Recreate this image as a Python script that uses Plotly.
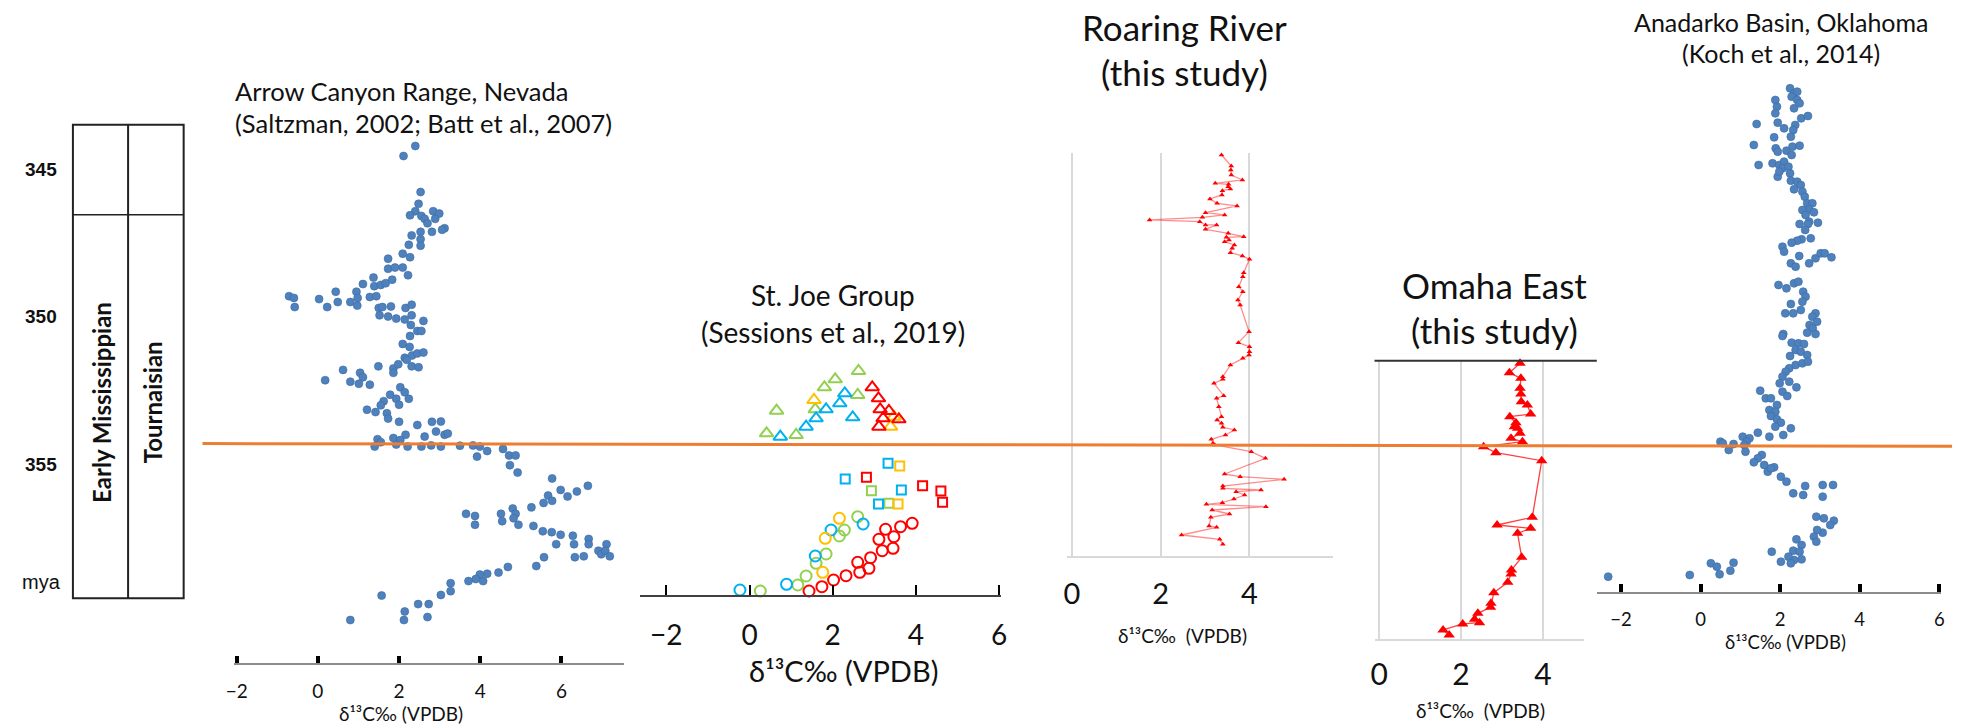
import plotly.graph_objects as go

W, H = 1969, 728


def px(x):
    return x / W


def py(y):
    return 1 - y / H


# ---------------- DATA ----------------
# Stratigraphic column (Ma)
age_ticks = [345, 350, 355]
age_tick_labels = ["345", "350", "355"]
mya_age = 359.0
strat_bounds = [343.5, 346.55, 359.55]      # column top, Tournaisian/Visean, base
strat_labels = ["Early Mississippian", "Tournaisian"]
strat_label_age = 352.9

# Arrow Canyon Range, Nevada (d13C, age Ma)
arrow_d13c = [2.40, 2.11, 2.53, 2.48, 2.40, 2.27, 2.55, 2.63, 2.70, 2.84, 2.99, 2.89, 3.12, 3.06, 2.81, 2.53,
              2.31, 2.53, 2.24, 2.53, 2.09, 2.27, 1.73, 1.73, 1.90, 2.09, 2.22, 1.83, 1.37, 1.11, 1.39, 1.55,
              1.67, 0.95, 0.44, 0.98, 1.28, 1.44, -0.71, -0.59, 0.03, 0.49, 0.80, 0.97, -0.57, 0.23, 1.50, 1.59,
              1.80, 2.16, 2.31, 1.52, 1.73, 1.93, 2.31, 2.14, 2.60, 2.29, 2.45, 2.55, 2.27, 2.09, 2.26, 2.14,
              2.32, 2.45, 2.60, 2.19, 2.31, 2.48, 1.49, 1.86, 1.98, 0.62, 1.04, 1.11, 0.80, 0.18, 1.01, 1.28,
              1.86, 2.03, 2.14, 2.24, 1.78, 1.93, 1.62, 2.00, 1.21, 1.55, 1.42, 1.70, 1.73, 2.00, 2.45, 2.81,
              3.03, 2.91, 3.12, 3.20, 2.16, 2.63, 1.86, 2.03, 1.47, 1.40, 1.55, 1.93, 2.21, 2.55, 2.79, 3.03,
              3.50, 3.82, 3.99, 4.17, 3.92, 4.56, 4.71, 4.87, 4.73, 4.92,
              5.77, 5.98, 6.15, 6.38, 6.65, 5.67, 5.77, 5.56, 5.26, 3.65, 3.87, 3.87, 4.51, 4.54, 4.80, 4.87,
              4.82, 4.94, 5.31, 5.54, 5.76, 5.98, 6.28, 6.31, 6.67, 6.67, 5.87, 6.91, 6.98, 7.11, 7.08, 7.19,
              6.33, 6.55, 5.57, 5.38, 4.68, 4.45, 4.17, 3.99, 4.07, 3.89, 3.71, 3.27, 3.27, 3.03, 2.73, 2.47,
              2.70, 2.14, 2.12, 1.57, 0.80]
arrow_age = [344.22, 344.56, 345.78, 346.18, 346.43, 346.57, 346.59, 346.69, 346.84, 346.43, 346.51, 346.69,
             347.01, 347.06, 347.13, 347.13, 347.25, 347.38, 347.57, 347.60, 347.87, 347.99, 348.04, 348.38,
             348.34, 348.34, 348.60, 348.75, 348.68, 348.90, 348.97, 348.93, 348.87, 349.16, 349.16, 349.37,
             349.34, 349.31, 349.31, 349.37, 349.41, 349.51, 349.51, 349.63, 349.68, 349.68, 349.71, 349.68,
             349.66, 349.71, 349.60, 349.96, 350.00, 350.07, 349.96, 350.10, 350.15, 350.29, 350.49, 350.49,
             350.66, 350.93, 351.03, 351.40, 351.32, 351.25, 351.22, 351.47, 351.69, 351.72, 351.69, 351.76,
             351.62, 351.81, 351.91, 352.06, 352.21, 352.16, 352.28, 352.31, 351.91, 352.40, 352.57, 352.79,
             352.65, 352.79, 352.87, 352.99, 353.16, 353.01, 353.24, 353.28, 353.46, 353.57, 353.68, 353.57,
             353.56, 353.90, 354.01, 353.97, 354.01, 354.07, 354.12, 354.19, 354.16, 354.41, 354.26, 354.34,
             354.41, 354.41, 354.37, 354.41, 354.38, 354.37, 354.41, 354.56, 354.75, 354.49, 354.71, 354.71,
             355.04, 355.29,
             355.49, 355.88, 356.10, 355.93, 355.74, 356.07, 356.25, 356.32, 356.47, 356.69, 356.76, 357.06,
             356.69, 356.94, 356.51, 356.69, 356.84, 357.06, 357.10, 357.28, 357.31, 357.40, 357.43, 357.72,
             357.54, 357.72, 357.72, 357.94, 358.06, 357.72, 357.94, 358.13, 358.16, 358.13, 358.16, 358.46,
             358.49, 358.68, 358.72, 358.75, 358.97, 358.90, 358.97, 359.04, 359.31, 359.44, 359.75, 359.75,
             360.19, 360.00, 360.29, 359.46, 360.29]

# St. Joe Group (Sessions et al., 2019): d13C, height (m), interval, section
sj_d13c = [2.62, 2.06, 1.80, 2.60, 1.58, 0.65, 0.41, 1.12,
           2.29, 2.17, 1.84, 1.60, 1.36, 2.48, 0.74,
           1.55, 3.47, 3.39,
           2.95, 3.10, 3.14, 3.35, 3.21, 3.59, 3.11,
           3.33, 2.30, 3.65, 3.10,
           3.61, 3.57,
           2.81, 4.16, 4.60, 4.64,
           2.93, 3.35,
           2.16, 1.82, 1.76,
           2.60, 2.28, 2.16, 1.84, 1.60, 1.36, 1.16, 0.26,
           2.73, 1.96, 1.58, 0.89, -0.23,
           3.91, 3.63, 3.27, 3.11, 3.47, 3.19, 3.45, 2.91, 2.60, 2.87, 2.65, 2.32, 2.02, 1.74, 1.43]
sj_height = [22.4, 21.57, 20.77, 20.0, 18.57, 18.43, 16.17, 16.0,
             20.17, 19.17, 18.57, 17.67, 16.83, 17.77, 15.83,
             19.5, 17.83, 16.83,
             20.77, 19.67, 18.57, 18.4, 17.67, 17.57, 16.83,
             13.17, 11.6, 10.5, 9.1,
             12.9, 9.1,
             11.77, 10.93, 10.4, 9.27,
             10.43, 9.17,
             7.67, 5.67, 2.27,
             7.83, 6.5, 5.9, 4.1, 3.17, 1.9, 1.0, 0.4,
             7.1, 6.5, 3.9, 1.07, 0.5,
             7.17, 6.83, 6.57, 5.57, 5.83, 4.43, 4.67, 3.73, 3.27, 2.67, 2.27, 1.93, 1.5, 0.83, 0.4]
sj_interval = (["upper"] * 25) + (["middle"] * 12) + (["lower"] * 31)
sj_section = (["A"] * 8 + ["B"] * 7 + ["C"] * 3 + ["D"] * 7
              + ["B"] * 4 + ["C"] * 2 + ["D"] * 4 + ["A"] * 2
              + ["C"] * 3 + ["A"] * 8 + ["B"] * 5 + ["D"] * 15)

# Roaring River (this study): d13C, height (m)
rr_d13c = [3.37, 3.59, 3.58, 3.59, 3.84, 3.23, 3.53, 3.52, 3.57, 3.39, 3.38, 3.11, 3.27, 3.72, 3.01, 3.44,
           2.94, 1.75, 2.88, 3.01, 3.26, 3.01, 3.52, 3.87, 3.48, 3.54, 3.44, 3.66, 3.61, 3.57, 3.84, 4.00,
           3.87, 3.85, 3.76, 3.85, 3.74, 3.79, 3.99, 3.75, 4.00, 4.00, 3.99, 3.85, 3.57, 3.40, 3.40, 3.20,
           3.42, 3.26, 3.31, 3.37, 3.27, 3.37, 3.40, 3.66, 3.46, 3.14, 3.18, 3.22, 4.04, 4.36, 3.44, 3.79,
           4.78, 3.40, 3.40, 4.26, 3.70, 3.89, 3.65, 3.39, 3.03, 4.37, 3.16, 3.55, 3.13, 3.09, 3.26, 2.47,
           3.33, 3.40]
rr_height = [120.3, 117.0, 115.8, 114.3, 112.8, 111.8, 111.5, 110.8, 110.1, 109.6, 108.3, 107.1, 105.8,
             105.0, 103.0, 102.3, 101.6, 100.8, 100.3, 99.3, 99.3, 98.0, 96.8, 95.8, 95.6, 94.8, 94.3,
             93.3, 92.3, 91.0, 90.0, 89.0, 85.0, 83.8, 80.8, 79.3, 76.8, 75.3, 67.3, 64.0, 62.8, 61.3,
             60.3, 59.3, 57.3, 53.8, 53.0, 51.8, 48.1, 47.3, 44.8, 41.8, 40.8, 39.8, 38.6, 37.8, 36.3,
             35.0, 33.8, 33.3, 31.3, 29.3, 24.6, 23.8, 23.0, 21.0, 20.3, 19.8, 19.3, 18.3, 17.1, 16.0,
             15.5, 14.8, 13.8, 12.6, 11.6, 9.0, 8.6, 6.3, 5.0, 3.5]

# Omaha East (this study): d13C, height (m)
oe_d13c = [3.44, 3.18, 3.46, 3.44, 3.46, 3.47, 3.62, 3.70, 3.19, 3.34, 3.30, 3.38, 3.44, 3.22, 3.50, 2.55,
           2.85, 3.97, 3.74, 2.88, 3.70, 3.38, 3.48, 3.23, 3.22, 3.14, 2.80, 2.73, 2.72, 2.41, 2.33, 2.45,
           2.04, 1.56, 1.71]
oe_height = [82.8, 80.0, 78.3, 75.3, 73.6, 71.3, 70.3, 67.6, 66.8, 65.0, 63.8, 63.3, 61.8, 60.3, 59.3, 57.8,
             56.0, 53.6, 36.6, 34.3, 33.3, 31.8, 24.6, 20.8, 19.6, 17.1, 14.0, 10.8, 9.6, 7.8, 6.0, 5.0,
             4.6, 2.8, 1.3]

# Anadarko Basin, Oklahoma (Koch et al., 2014): d13C, height (m)
ab_d13c = [2.25, 2.35, 2.43, 2.29, 2.43, 1.88, 1.92, 2.49, 2.35, 1.88, 2.53, 2.70, 1.94, 1.41, 2.10, 2.38,
           2.33, 2.27, 1.85, 1.89, 1.94, 2.16, 2.31, 2.49, 2.29, 1.34, 1.81, 1.46, 1.98, 2.10, 2.06, 2.21,
           1.94, 1.98, 2.25, 2.27, 2.43, 2.52, 2.35, 2.56, 2.62, 2.68, 2.81, 2.73, 2.56, 2.85, 2.64, 2.73,
           2.49, 2.70, 2.95, 2.63, 2.77, 2.54, 2.43, 2.29, 2.06, 2.10, 2.48, 2.27, 2.39, 2.73, 2.89, 3.02,
           3.12, 3.29, 1.96, 2.16, 2.35, 2.46, 2.58, 2.64, 2.56, 2.52, 2.27, 2.13, 2.33, 2.89, 2.81, 2.93,
           2.74, 2.82, 2.68, 2.89, 2.08,
           2.06, 2.29, 2.46, 2.60, 2.39, 2.52, 2.25, 2.68, 2.39, 2.56, 2.70, 2.23, 2.14, 2.06, 1.99, 2.23,
           2.41, 1.50, 2.06, 2.18, 1.64, 1.77, 1.92, 1.73, 1.88, 1.77, 1.92, 2.02, 1.88, 2.27, 2.08, 1.44,
           1.73, 1.06, 1.23, 1.16, 1.10, 0.50, 0.56, 0.83, 0.71, 1.13, 1.54, 1.44, 1.34, 1.60, 1.69, 1.85,
           1.77, 2.02, 2.16, 2.33, 2.63, 2.58, 3.07, 3.07, 3.33, 2.91, 3.10, 3.35, 3.26, 3.07, 2.93, 2.85,
           2.91, 2.41, 2.54, 2.33, 2.49, 2.54, 2.35, 2.21, 2.27, 1.79, 2.02, 0.83, 0.75, 0.26, 0.41, 0.48,
           -0.27, -2.32]
ab_height = [102.33, 101.33, 101.67, 100.67, 100.0, 100.0, 98.67, 99.33, 98.33, 97.33, 96.33, 96.8, 95.47,
             95.2, 94.33, 95.0, 94.0, 92.67, 92.53, 90.33, 89.67, 89.87, 90.67, 90.87, 89.0, 91.0, 87.33,
             87.0, 87.0, 87.67, 86.33, 86.67, 84.67, 85.67, 85.33, 83.87, 83.67, 83.0, 82.13, 81.67, 80.67,
             79.33, 79.33, 78.13, 78.0, 77.53, 77.0, 75.67, 75.2, 75.2, 75.47, 74.0, 72.33, 72.13, 71.87,
             71.47, 70.67, 69.67, 68.8, 67.33, 66.67, 67.33, 68.33, 69.33, 69.33, 68.53, 63.0, 62.33, 63.33,
             63.67, 61.67, 60.67, 59.67, 58.0, 59.2, 57.33, 57.33, 57.33, 56.67, 55.67, 55.0, 54.33, 53.47,
             53.2, 53.2,
             52.8, 51.47, 51.33, 51.2, 50.0, 49.67, 48.8, 49.0, 47.0, 47.33, 47.67, 46.33, 45.67, 44.67,
             43.33, 43.67, 42.53, 41.87, 41.67, 40.8, 40.33, 40.33, 39.0, 38.0, 37.67, 36.8, 36.13, 35.47,
             34.67, 34.33, 33.0, 33.47, 32.67, 32.67, 32.33, 31.67, 31.0, 31.67, 31.33, 31.2, 30.0, 29.67,
             29.0, 28.33, 27.53, 27.0, 25.67, 26.53, 26.33, 24.67, 23.67, 21.33, 22.8, 21.0, 23.0, 20.67,
             23.0, 16.67, 16.33, 15.87, 15.0, 13.47, 14.0, 12.67, 11.67, 12.13, 11.0, 9.87, 9.67, 8.13, 8.0,
             8.67, 7.33, 9.67, 7.67, 7.47, 5.87, 7.33, 6.67, 5.13, 5.0, 4.67]

xticks_wide = [-2, 0, 2, 4, 6]
xticks_narrow = [0, 2, 4]

# ---------------- STYLE ----------------
BLUE = "#4F81BD"
SECTION_COLORS = {"A": "#92D050", "B": "#00B0F0", "C": "#FFC000", "D": "#FF0000"}
INTERVAL_SYMBOLS = {"upper": ("triangle-up-open", 12), "middle": ("square-open", 9), "lower": ("circle-open", 11)}
TXT = "#111111"
CAL = "Lato, Carlito, 'Open Sans', sans-serif"
ARI = "'Liberation Sans', Arial, sans-serif"
D13 = "δ¹³C‰ (VPDB)"
D13b = "δ¹³C‰\u00a0\u00a0(VPDB)"

fig = go.Figure()

# Arrow Canyon
fig.add_trace(go.Scatter(x=arrow_d13c, y=arrow_age, mode="markers", xaxis="x", yaxis="y",
                         marker=dict(color=BLUE, size=8, line=dict(color="#3B6CA5", width=0.6)),
                         cliponaxis=False))

# St Joe
for interval, (sym, size) in INTERVAL_SYMBOLS.items():
    for sec, col in SECTION_COLORS.items():
        idx = [i for i in range(len(sj_d13c)) if sj_interval[i] == interval and sj_section[i] == sec]
        if not idx:
            continue
        fig.add_trace(go.Scatter(x=[sj_d13c[i] for i in idx], y=[sj_height[i] for i in idx],
                                 mode="markers", xaxis="x2", yaxis="y2", cliponaxis=False,
                                 marker=dict(symbol=sym, size=size, color=col, line=dict(color=col, width=2))))

# Roaring River
fig.add_trace(go.Scatter(x=rr_d13c, y=rr_height, mode="lines+markers", xaxis="x3", yaxis="y3",
                         line=dict(color="rgba(255,0,0,0.45)", width=1.3),
                         marker=dict(symbol="triangle-up", size=5, color="#FF0000"), cliponaxis=False))

# Omaha East
fig.add_trace(go.Scatter(x=oe_d13c, y=oe_height, mode="lines+markers", xaxis="x4", yaxis="y4",
                         line=dict(color="rgba(255,0,0,0.75)", width=1.3),
                         marker=dict(symbol="triangle-up", size=10, color="#FF0000"), cliponaxis=False))

# Anadarko
fig.add_trace(go.Scatter(x=ab_d13c, y=ab_height, mode="markers", xaxis="x5", yaxis="y5",
                         marker=dict(color=BLUE, size=8, line=dict(color="#3B6CA5", width=0.6)),
                         cliponaxis=False))

hidden_y = dict(visible=False, showgrid=False, zeroline=False)
base_x = dict(showgrid=False, zeroline=False)

layout = dict(
    width=W, height=H, margin=dict(l=0, r=0, t=0, b=0),
    paper_bgcolor="white", plot_bgcolor="rgba(0,0,0,0)", showlegend=False,
    xaxis=dict(domain=[px(227), px(619.3)], range=[-2.059, 7.53], anchor="free", position=py(663.7),
               showline=True, linecolor="#8c8c8c", linewidth=2, ticks="inside", tickvals=xticks_wide,
               ticklen=7, tickwidth=4, tickcolor="black", ticklabelstandoff=10,
               tickfont=dict(family=CAL, size=19, color=TXT), **base_x),
    yaxis=dict(domain=[0, 1], range=[363.95, 339.27], **hidden_y),
    xaxis2=dict(domain=[px(635.7), px(1000)], range=[-2.636, 6.054], anchor="free", position=py(595.5),
                showline=True, linecolor="#404040", linewidth=1.5, ticks="inside", tickvals=xticks_wide,
                ticklen=10, tickwidth=2, tickcolor="black", ticklabelstandoff=15,
                tickfont=dict(family=CAL, size=28, color=TXT), **base_x),
    yaxis2=dict(domain=[0, 1], range=[-13.3, 59.5], anchor="x2", **hidden_y),
    xaxis3=dict(domain=[px(1066), px(1334)], range=[-0.112, 5.877], anchor="y3",
                showline=True, linecolor="#d9d9d9", linewidth=1.5, ticks="", tickvals=xticks_narrow,
                showgrid=True, gridcolor="#d9d9d9", gridwidth=1.5, zeroline=False, ticklabelstandoff=11,
                tickfont=dict(family=CAL, size=29, color=TXT)),
    yaxis3=dict(domain=[py(556), py(153.3)], range=[0, 120.8], anchor="x3", **hidden_y),
    xaxis4=dict(domain=[px(1376), px(1586.7)], range=[-0.114, 4.993], anchor="y4",
                showline=True, linecolor="#d9d9d9", linewidth=1.5, ticks="", tickvals=xticks_narrow,
                showgrid=True, gridcolor="#d9d9d9", gridwidth=1.5, zeroline=False, ticklabelstandoff=8,
                tickfont=dict(family=CAL, size=30, color=TXT)),
    yaxis4=dict(domain=[py(639.3), py(360.7)], range=[0, 83.6], anchor="x4", **hidden_y),
    xaxis5=dict(domain=[px(1600), px(1946.7)], range=[-2.606, 6.04], anchor="free", position=py(593.3),
                showline=True, linecolor="#8c8c8c", linewidth=2, ticks="inside", tickvals=xticks_wide,
                ticklen=8, tickwidth=4, tickcolor="black", ticklabelstandoff=9,
                tickfont=dict(family=CAL, size=18.5, color=TXT), **base_x),
    yaxis5=dict(domain=[0, 1], range=[-25.6, 120], anchor="x5", **hidden_y),
)
fig.update_layout(**layout)

shapes = []
# stratigraphic column
shapes.append(dict(type="rect", xref="paper", yref="y", x0=px(64.4), x1=px(176),
                   y0=strat_bounds[0], y1=strat_bounds[2], line=dict(color="#222", width=2)))
shapes.append(dict(type="line", xref="paper", yref="y", x0=px(120), x1=px(120),
                   y0=strat_bounds[0], y1=strat_bounds[2], line=dict(color="#222", width=2)))
shapes.append(dict(type="line", xref="paper", yref="y", x0=px(64.4), x1=px(176),
                   y0=strat_bounds[1], y1=strat_bounds[1], line=dict(color="#222", width=1.5)))
# Omaha East top border
shapes.append(dict(type="line", xref="paper", yref="paper", x0=px(1376), x1=px(1600),
                   y0=py(360.7), y1=py(360.7), line=dict(color="#333", width=2)))
# correlation line
shapes.append(dict(type="line", xref="paper", yref="paper", x0=px(195), x1=px(1958),
                   y0=py(443.6), y1=py(446.3), line=dict(color="#ED7D31", width=3)))
fig.update_layout(shapes=shapes)

ann = []
for a, lab in zip(age_ticks, age_tick_labels):
    ann.append(dict(x=px(32.5), xref="paper", y=a, yref="y", text=lab, showarrow=False,
                    font=dict(family=ARI, size=19, color=TXT, weight="bold"),
                    xanchor="center", yanchor="middle"))
ann.append(dict(x=px(33), xref="paper", y=mya_age, yref="y", text="mya", showarrow=False,
                font=dict(family=ARI, size=20, color=TXT), xanchor="center", yanchor="middle"))
for lab, xx in zip(strat_labels, [92.6, 144.4]):
    ann.append(dict(x=px(xx), xref="paper", y=strat_label_age, yref="y", text=lab,
                    showarrow=False, textangle=-90, font=dict(family=CAL, size=24, color=TXT, weight="bold"),
                    xanchor="center", yanchor="middle"))

titles = [
    ("Arrow Canyon Range, Nevada", 226, 91, "left", 25.5),
    ("(Saltzman, 2002; Batt et al., 2007)", 226, 122.5, "left", 25.5),
    ("St. Joe Group", 830, 295, "center", 28),
    ("(Sessions et al., 2019)", 830, 331.7, "center", 28),
    ("Roaring River", 1185, 26.7, "center", 35),
    ("(this study)", 1185, 71.7, "center", 35),
    ("Omaha East", 1497, 285, "center", 35),
    ("(this study)", 1497, 330, "center", 35),
    ("Anadarko Basin, Oklahoma", 1786, 21.7, "center", 25),
    ("(Koch et al., 2014)", 1786, 53.3, "center", 25),
    (D13, 395.5, 713.6, "center", 19),
    (D13, 841, 670, "center", 29),
    (D13b, 1183, 635, "center", 19),
    (D13b, 1483, 710, "center", 19),
    (D13, 1790, 641.7, "center", 18.5),
]
for t, xx, yy, anc, fs in titles:
    ann.append(dict(x=px(xx), y=py(yy), xref="paper", yref="paper", text=t, showarrow=False,
                    xanchor=anc, yanchor="middle", font=dict(family=CAL, size=fs, color=TXT)))
fig.update_layout(annotations=ann)

fig.write_html("out.html")
